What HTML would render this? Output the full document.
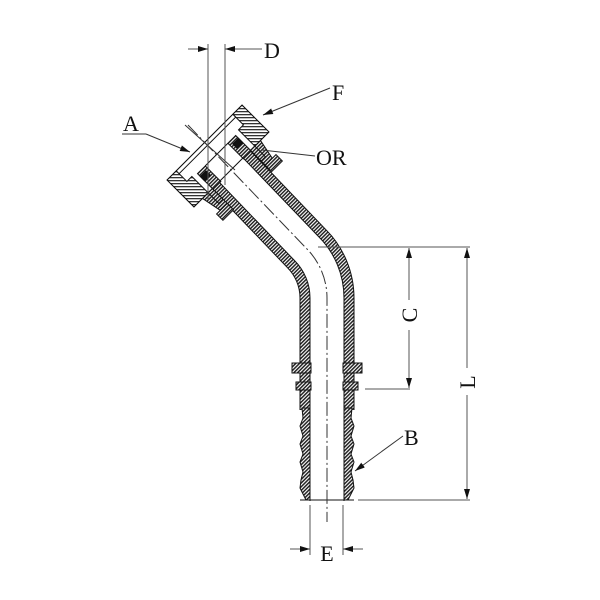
<!DOCTYPE html>
<html><head><meta charset="utf-8"><style>
html,body{margin:0;padding:0;background:#fff}
svg{display:block}
text{font-family:"Liberation Serif",serif;font-size:22px;fill:#111}
</style></head><body>
<svg width="600" height="600" viewBox="0 0 600 600" xmlns="http://www.w3.org/2000/svg">
<defs>
<pattern id="h" width="2.6" height="2.6" patternUnits="userSpaceOnUse" patternTransform="rotate(45)">
<rect width="2.6" height="2.6" fill="#fff"/><rect width="1.5" height="2.6" fill="#222"/></pattern>
<pattern id="hr" width="2.6" height="2.6" patternUnits="userSpaceOnUse" patternTransform="rotate(0)">
<rect width="2.6" height="2.6" fill="#fff"/><rect width="1.5" height="2.6" fill="#222"/></pattern>
<pattern id="hh" width="3" height="3" patternUnits="userSpaceOnUse" patternTransform="rotate(-45)">
<rect width="3" height="3" fill="#fff"/><rect width="3" height="1.3" fill="#333"/></pattern>
<marker id="ar" markerWidth="10" markerHeight="6" refX="10" refY="3" orient="auto" markerUnits="userSpaceOnUse"><path d="M0,0 L10,3 L0,6 z" fill="#111"/></marker>
</defs>

<!-- pipe -->
<g fill="none">
<path d="M216.6,154.6 L306.5,248.5 A70,70 0 0 1 327,298 L327,410" stroke="#111" stroke-width="55"/>
<path d="M216.6,154.6 L306.5,248.5 A70,70 0 0 1 327,298 L327,410" stroke="url(#h)" stroke-width="53"/>
<path d="M210,148 L306.5,248.5 A70,70 0 0 1 327,298 L327,501" stroke="#111" stroke-width="35"/>
<path d="M210,148 L306.5,248.5 A70,70 0 0 1 327,298 L327,501" stroke="#fff" stroke-width="33"/>
</g>
<!-- barb walls -->
<path d="M302,408 L310,408 L310,500 L306,500 L300,488 L301,480 L303,472 L300,462 L303,454 L300,444 L303,436 L300,426 L303,418 Z" fill="url(#h)" stroke="#111" stroke-width="1"/>
<path d="M352,408 L344,408 L344,500 L348,500 L354,488 L353,480 L351,472 L354,462 L351,454 L354,444 L351,436 L354,426 L351,418 Z" fill="url(#h)" stroke="#111" stroke-width="1"/>
<!-- collars -->
<rect x="292" y="363" width="19" height="10" fill="url(#h)" stroke="#111"/>
<rect x="343" y="363" width="19" height="10" fill="url(#h)" stroke="#111"/>
<rect x="296" y="382" width="15" height="8" fill="url(#h)" stroke="#111"/>
<rect x="343" y="382" width="15" height="8" fill="url(#h)" stroke="#111"/>
<line x1="300" y1="500" x2="354" y2="500" stroke="#111"/>

<!-- fitting head in local frame -->
<g transform="translate(218,156) rotate(45)" stroke="#111" stroke-width="1">
  <path d="M14,-42 L44,-36 L44,-27 L14,-27 Z" fill="url(#hr)"/>
  <path d="M14,42 L44,36 L44,27 L14,27 Z" fill="url(#hr)"/>
  <rect x="40" y="-42" width="9" height="15" fill="url(#hr)"/>
  <rect x="40" y="27" width="9" height="15" fill="url(#hr)"/>
  <!-- nut -->
  <rect x="-19" y="-53" width="38" height="106" fill="#fff"/>
  <path d="M-19,-53 L19,-53 L19,-33 L-4,-33 L-4,-40 L-19,-40 Z" fill="url(#hh)"/>
  <path d="M-19,53 L19,53 L19,33 L-4,33 L-4,40 L-19,40 Z" fill="url(#hh)"/>
  <rect x="-19" y="-40" width="4" height="80" fill="#fff"/>
  <path d="M19,-33 L34,-33 L34,-27 L19,-27 Z" fill="url(#hr)"/>
  <path d="M19,33 L34,33 L34,27 L19,27 Z" fill="url(#hr)"/>
  <!-- nipple end -->
  <rect x="-2" y="-27" width="22" height="11" fill="url(#hr)"/>
  <rect x="-2" y="16" width="22" height="11" fill="url(#hr)"/>
  <rect x="2" y="-27" width="6" height="8" fill="#111"/>
  <rect x="2" y="19" width="6" height="8" fill="#111"/>
  <line x1="-2" y1="-16" x2="-2" y2="16"/>
</g>

<!-- centerline -->
<path d="M188,125 L306.5,248.5 A70,70 0 0 1 327,298 L327,522" fill="none" stroke="#333" stroke-width="1" stroke-dasharray="14,3,2,3"/>
<line x1="185" y1="125" x2="235" y2="170" stroke="#333" stroke-width="1"/>

<!-- D -->
<g stroke="#555" stroke-width="1">
<line x1="208" y1="44" x2="208" y2="200"/>
<line x1="225" y1="44" x2="225" y2="185"/>
<line x1="188" y1="49" x2="208" y2="49" marker-end="url(#ar)"/>
<line x1="262" y1="49" x2="225" y2="49" marker-end="url(#ar)"/>
</g>
<text x="264" y="58">D</text>
<!-- F -->
<line x1="330" y1="88" x2="263" y2="115" stroke="#333" marker-end="url(#ar)"/>
<text x="332" y="100">F</text>
<!-- A -->
<text x="123" y="131">A</text>
<line x1="122" y1="134" x2="146" y2="134" stroke="#333"/>
<line x1="146" y1="134" x2="190" y2="152" stroke="#333" marker-end="url(#ar)"/>
<!-- OR -->
<line x1="315" y1="156" x2="262" y2="150" stroke="#333"/>
<text x="316" y="165">OR</text>

<!-- C & L -->
<g stroke="#555" stroke-width="1">
<line x1="318" y1="247" x2="470" y2="247"/>
<line x1="365" y1="389" x2="410" y2="389"/>
<line x1="358" y1="500" x2="470" y2="500"/>
<line x1="409" y1="300" x2="409" y2="248" marker-end="url(#ar)"/>
<line x1="409" y1="330" x2="409" y2="388" marker-end="url(#ar)"/>
<line x1="467" y1="368" x2="467" y2="248" marker-end="url(#ar)"/>
<line x1="467" y1="395" x2="467" y2="499" marker-end="url(#ar)"/>
</g>
<text transform="translate(417,315) rotate(-90)" text-anchor="middle">C</text>
<text transform="translate(475,382) rotate(-90)" text-anchor="middle">L</text>

<!-- B -->
<line x1="403" y1="436" x2="355" y2="471" stroke="#333" marker-end="url(#ar)"/>
<text x="404" y="445">B</text>

<!-- E -->
<g stroke="#555" stroke-width="1">
<line x1="310" y1="505" x2="310" y2="555"/>
<line x1="343" y1="505" x2="343" y2="555"/>
<line x1="290" y1="549" x2="310" y2="549" marker-end="url(#ar)"/>
<line x1="363" y1="549" x2="343" y2="549" marker-end="url(#ar)"/>
</g>
<text x="327" y="561" text-anchor="middle">E</text>
</svg>
</body></html>
